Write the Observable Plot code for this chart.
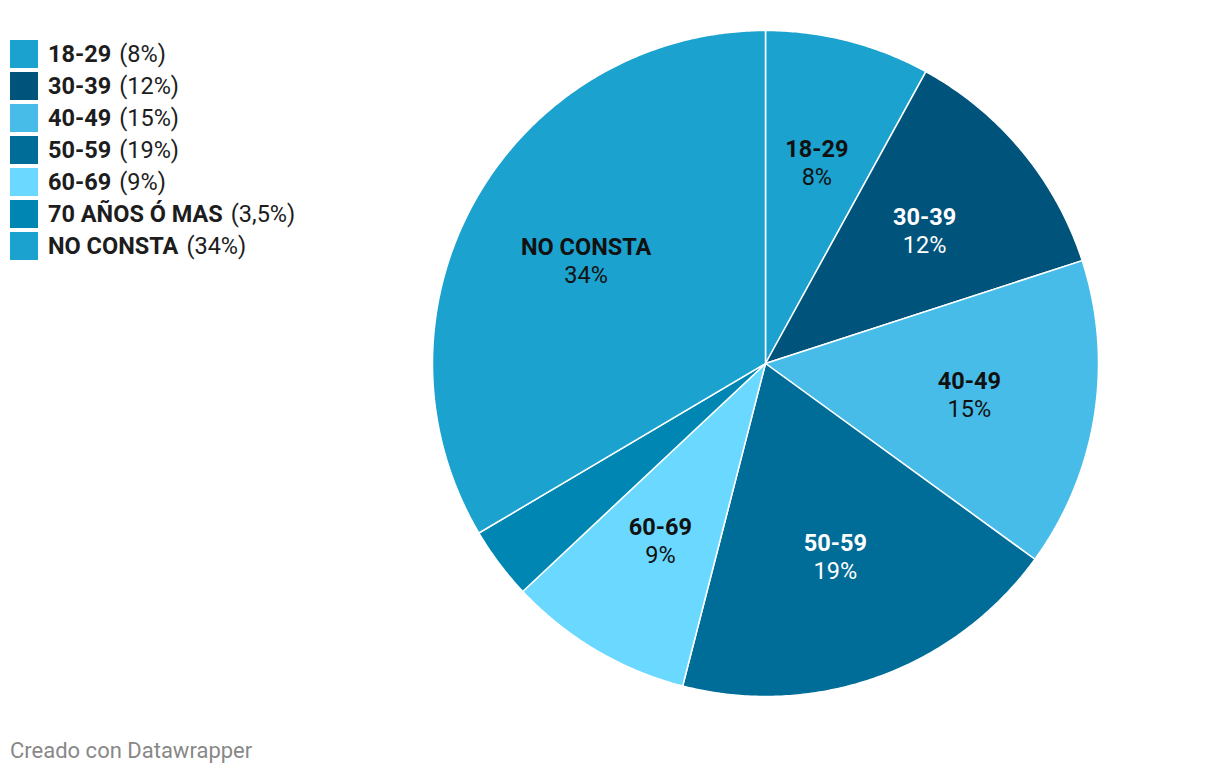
<!DOCTYPE html>
<html>
<head>
<meta charset="utf-8">
<script src="https://cdn.jsdelivr.net/npm/d3@7"></script>
<script src="https://cdn.jsdelivr.net/npm/@observablehq/plot@0.6"></script>
<style>
  html, body { margin: 0; padding: 0; background: #fff; }
  body { font-family: Roboto, "Noto Sans", sans-serif; }
  #wrap { position: relative; width: 1220px; height: 774px; }
  #chart { position: absolute; left: 0; top: 0; }
  #legend { position: absolute; left: 10px; top: 40px; }
  .item { display: flex; align-items: center; height: 28px; margin-bottom: 4px; font-size: 23.5px; color: #1d1d1d; white-space: nowrap; }
  .sw { width: 28px; height: 28px; margin-right: 10px; flex: none; }
  .item b { font-weight: 700; margin-right: 8px; }
  #caption { position: absolute; left: 10px; top: 738px; font-size: 22px; color: #888; }
</style>
</head>
<body>
<div id="wrap">
  <div id="chart"></div>
  <div id="legend"></div>
  <div id="caption">Creado con Datawrapper</div>
</div>
<script>
const categories = ["18-29", "30-39", "40-49", "50-59", "60-69", "70 AÑOS Ó MAS", "NO CONSTA"];
const values = [8, 12, 15, 19, 9, 3.5, 33.5];
const valueLabels = ["8%", "12%", "15%", "19%", "9%", "3,5%", "34%"];
const colors = ["#1ba2cf", "#00537b", "#48bce8", "#006d98", "#6bd8ff", "#0086b2", "#1ba2cf"];
const labelColors = ["#111", "#fff", "#111", "#fff", "#111", "#fff", "#111"];
const showLabel = [true, true, true, true, true, false, true];

const W = 1220, H = 730;
const cx = 765, cy = 363, R = 333;

const data = categories.map((c, i) => ({category: c, value: values[i], label: valueLabels[i], idx: i}));
const arcs = d3.pie().sort(null).value(d => d.value)(data);

// polygon points of each slice in unit coordinates (angle measured clockwise from 12 o'clock)
const pts = [];
for (const a of arcs) {
  const k = a.data.category;
  pts.push({k, x: 0, y: 0});
  const n = Math.max(8, Math.ceil((a.endAngle - a.startAngle) * 120));
  for (let j = 0; j <= n; j++) {
    const t = a.startAngle + (a.endAngle - a.startAngle) * j / n;
    pts.push({k, x: Math.sin(t), y: Math.cos(t)});
  }
}
const labels = arcs.filter(a => showLabel[a.data.idx]).map(a => {
  const m = (a.startAngle + a.endAngle) / 2;
  return {category: a.data.category, label: a.data.label, x: 0.62 * Math.sin(m), y: 0.62 * Math.cos(m), color: labelColors[a.data.idx]};
});

const xDomain = [-cx / R, (W - cx) / R];
const yDomain = [-(H - cy) / R, cy / R];

const plot = Plot.plot({
  width: W, height: H,
  margin: 0,
  style: {fontFamily: "Roboto, sans-serif", background: "transparent"},
  x: {domain: xDomain, axis: null},
  y: {domain: yDomain, axis: null},
  color: {domain: categories, range: colors},
  marks: [
    Plot.line(pts, {x: "x", y: "y", z: "k", fill: "k", stroke: "white", strokeWidth: 1.5, curve: "linear-closed", strokeLinejoin: "round"}),
    Plot.text(labels, {x: "x", y: "y", text: "category", fill: "color", fontWeight: "bold", fontSize: 23.5, dy: -14}),
    Plot.text(labels, {x: "x", y: "y", text: "label", fill: "color", fontSize: 23.5, dy: 14})
  ]
});
document.getElementById("chart").appendChild(plot);

const legend = document.getElementById("legend");
categories.forEach((c, i) => {
  const row = document.createElement("div");
  row.className = "item";
  row.innerHTML = `<span class="sw" style="background:${colors[i]}"></span><b>${c}</b><span>(${valueLabels[i]})</span>`;
  legend.appendChild(row);
});
</script>
</body>
</html>
